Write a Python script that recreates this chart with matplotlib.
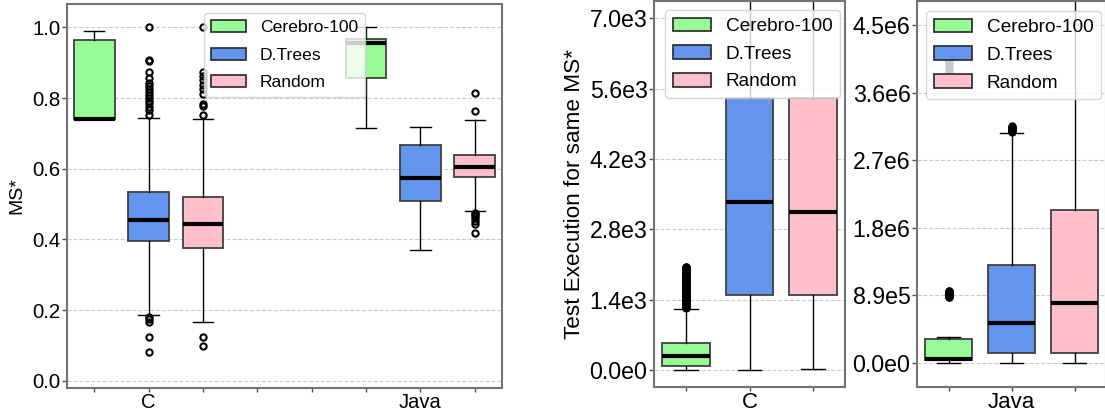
import matplotlib
matplotlib.use("Agg")
import matplotlib.pyplot as plt
from matplotlib.patches import Patch
from matplotlib.ticker import FuncFormatter

plt.rcParams['font.family'] = ['Liberation Sans', 'DejaVu Sans']

# ---- data -------------------------------------------------------------
techniques = ["Cerebro-100", "D.Trees", "Random"]
colors = ["#98FB98", "#6495ED", "#FFC0CB"]

# MS* distributions: (whislo, q1, median, q3, whishi)
ms_c = {
    "Cerebro-100": (0.741, 0.741, 0.741, 0.964, 0.991),
    "D.Trees": (0.187, 0.395, 0.454, 0.534, 0.743),
    "Random": (0.166, 0.375, 0.444, 0.521, 0.740),
}
ms_c_fliers = {
    "Cerebro-100": [],
    "D.Trees": [1.0, 0.908, 0.904, 0.875, 0.856, 0.843, 0.835, 0.826, 0.818,
                0.81, 0.80, 0.793, 0.785, 0.776, 0.767, 0.752,
                0.181, 0.175, 0.166, 0.123, 0.083],
    "Random": [1.0, 0.875, 0.862, 0.85, 0.838, 0.825, 0.812, 0.783, 0.777,
               0.751, 0.125, 0.10],
}
ms_java = {
    "Cerebro-100": (0.716, 0.856, 0.957, 0.967, 1.0),
    "D.Trees": (0.369, 0.508, 0.573, 0.668, 0.717),
    "Random": (0.480, 0.576, 0.604, 0.640, 0.737),
}
ms_java_fliers = {
    "Cerebro-100": [],
    "D.Trees": [],
    "Random": [0.815, 0.763, 0.476, 0.471, 0.466, 0.46, 0.452, 0.444, 0.418],
}

# Test executions needed to reach the same MS*
exec_c = {
    "Cerebro-100": (0, 87, 283, 537, 1218),
    "D.Trees": (0, 1486, 3344, 5408, 7600),
    "Random": (10, 1500, 3152, 5408, 7600),
}
exec_c_fliers = {
    "Cerebro-100": [1230, 1245, 1260, 1275, 1290, 1305, 1320, 1335, 1350, 1365,
                    1380, 1395, 1410, 1425, 1440, 1455, 1470, 1485, 1500, 1515,
                    1530, 1545, 1560, 1575, 1590, 1605, 1620, 1635, 1650, 1665,
                    1680, 1695, 1710, 1725, 1740, 1755, 1770, 1785, 1800, 1815,
                    1830, 1845, 1860, 1875, 1890, 1905, 1920, 1935, 1950, 1965,
                    1980, 1995, 2010, 2025, 2040, 2055],
    "D.Trees": [],
    "Random": [],
}
exec_java = {
    "Cerebro-100": (0, 35e3, 57e3, 322e3, 344e3),
    "D.Trees": (0, 132e3, 521e3, 1.289e6, 3.046e6),
    "Random": (0, 124e3, 794e3, 2.018e6, 5.0e6),
}
exec_java_fliers = {
    "Cerebro-100": [0.865e6, 0.875e6, 0.885e6, 0.895e6, 0.905e6, 0.915e6,
                    0.925e6, 0.935e6, 0.945e6, 0.955e6,
                    3.80e6, 3.83e6, 3.86e6, 3.89e6, 3.92e6, 3.95e6, 3.98e6,
                    4.01e6, 4.04e6],
    "D.Trees": [3.06e6, 3.07e6, 3.08e6, 3.09e6, 3.10e6, 3.11e6, 3.12e6,
                3.13e6],
    "Random": [],
}

ms_ticks = [0.0, 0.2, 0.4, 0.6, 0.8, 1.0]
exec_c_max = 7000
exec_java_max = 4.47e6


def stats_list(summary, fliers):
    out = []
    for name in techniques:
        lo, q1, med, q3, hi = summary[name]
        out.append(dict(whislo=lo, q1=q1, med=med, q3=q3, whishi=hi,
                        fliers=fliers[name], label=name))
    return out


def e_fmt(v, pos=None):
    s = "%.1e" % v
    mant, exp = s.split("e")
    return "%se%d" % (mant, int(exp))


def draw_boxes(ax, stats, positions, fsize=4.5):
    bp = ax.bxp(stats, positions=positions, widths=0.75, patch_artist=True,
                showfliers=True, manage_ticks=False,
                boxprops=dict(edgecolor="0.25", linewidth=1.3),
                medianprops=dict(color="black", linewidth=3),
                whiskerprops=dict(color="black", linewidth=1.0),
                capprops=dict(color="black", linewidth=1.0),
                flierprops=dict(marker="o", markersize=fsize,
                                markerfacecolor="none",
                                markeredgecolor="black",
                                markeredgewidth=1.5))
    for patch, c in zip(bp["boxes"], colors):
        patch.set_facecolor(c)
    return bp


def style_axes(ax, tick_size):
    ax.set_facecolor("white")
    for sp in ax.spines.values():
        sp.set_color("0.45")
        sp.set_linewidth(1.5)
    ax.yaxis.grid(True, linestyle="--", color="0.8", linewidth=0.8)
    ax.set_axisbelow(True)
    ax.tick_params(axis="y", direction="out", length=3.5, width=1,
                   color="0.3", labelsize=tick_size, pad=1.2)
    ax.tick_params(axis="x", direction="out", length=3, width=1,
                   color="0.3", pad=0.5)


def add_legend(ax, x, y, fsize, spacing=0.5):
    handles = [Patch(facecolor=c, edgecolor="0.15", linewidth=1.2, label=t)
               for c, t in zip(colors, techniques)]
    ax.legend(handles=handles, loc="upper left", bbox_to_anchor=(x, y),
              borderaxespad=0, fontsize=fsize, handlelength=2.0,
              labelspacing=spacing, framealpha=0.8, edgecolor="0.8",
              fancybox=True)


fig = plt.figure(figsize=(11.05, 4.16), dpi=100)
W, H = 1105.0, 416.0


def axes_px(x0, x1, top, bottom):
    return fig.add_axes([x0 / W, 1 - bottom / H, (x1 - x0) / W, (bottom - top) / H])


# ---- MS* (C and Java) --------------------------------------------------
ax1 = axes_px(67, 502, 4, 388)
style_axes(ax1, 14.7)
draw_boxes(ax1, stats_list(ms_c, ms_c_fliers), [1, 2, 3])
draw_boxes(ax1, stats_list(ms_java, ms_java_fliers), [6, 7, 8])
ax1.set_xlim(0.5, 8.5)
ax1.set_ylim(-0.02, 1.066)
ax1.set_yticks(ms_ticks)
ax1.set_yticklabels(["%.1f" % t for t in ms_ticks])
ax1.set_xticks([1, 2, 3, 4, 5, 6, 7, 8])
ax1.set_xticklabels(["", "C", "", "", "", "", "Java", ""], fontsize=14.5)
ax1.set_ylabel("MS*", fontsize=14, labelpad=5)
add_legend(ax1, (204 - 67) / 435.0, (388 - 13) / 384.0, 12.6, spacing=0.7)

# ---- Test executions, C -------------------------------------------------
ax2 = axes_px(654, 845, 1, 387)
style_axes(ax2, 16.7)
draw_boxes(ax2, stats_list(exec_c, exec_c_fliers), [1, 2, 3])
ax2.set_xlim(0.5, 3.5)
ax2.set_ylim(-340, 7345)
ax2.set_yticks([exec_c_max * i / 5 for i in range(6)])
ax2.yaxis.set_major_formatter(FuncFormatter(e_fmt))
ax2.set_xticks([1, 2, 3])
ax2.set_xticklabels(["", "C", ""], fontsize=16)
ax2.set_ylabel("Test Execution for same MS*", fontsize=16.2, labelpad=3)
add_legend(ax2, (665 - 654) / 191.0, (387 - 10) / 386.0, 13.7, spacing=0.55)

# ---- Test executions, Java ----------------------------------------------
ax3 = axes_px(917, 1106, 1, 387)
style_axes(ax3, 16.7)
draw_boxes(ax3, stats_list(exec_java, exec_java_fliers), [1, 2, 3])
ax3.set_xlim(0.5, 3.5)
ax3.set_ylim(-0.32e6, 4.79e6)
ax3.set_yticks([exec_java_max * i / 5 for i in range(6)])
ax3.yaxis.set_major_formatter(FuncFormatter(e_fmt))
ax3.set_xticks([1, 2, 3])
ax3.set_xticklabels(["", "Java", ""], fontsize=16)
add_legend(ax3, (926 - 917) / 189.0, (387 - 11) / 386.0, 13.7, spacing=0.55)

fig.savefig("out.png", dpi=100)
